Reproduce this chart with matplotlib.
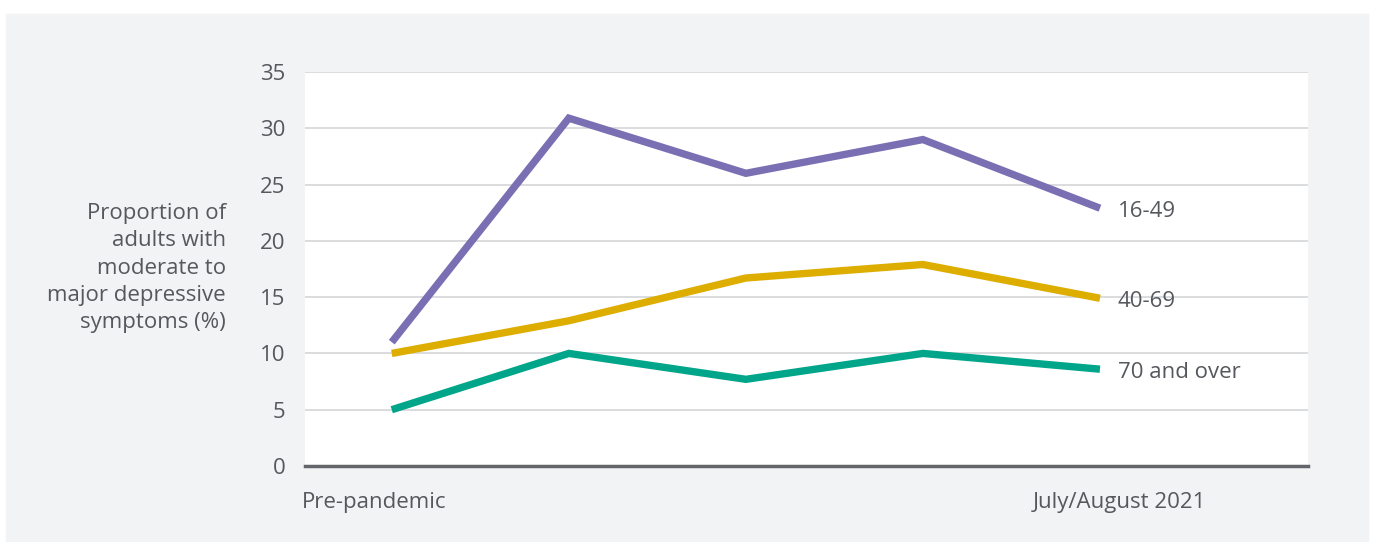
import numpy as np
import matplotlib.pyplot as plt

# survey waves, pre-pandemic to July/August 2021
waves = [0, 1, 2, 3, 4]
age_16_49 = [11.0, 30.9, 26.0, 29.0, 22.9]
age_40_69 = [10.0, 12.9, 16.7, 17.9, 14.9]
age_70_over = [5.0, 10.0, 7.7, 10.0, 8.6]
series_names = ['16-49', '40-69', '70 and over']
first_label = 'Pre-pandemic'
last_label = 'July/August 2021'
yticks = [0, 5, 10, 15, 20, 25, 30, 35]

colors = ['#7a6fb3', '#ddad00', '#00a58a']
txt = '#55585c'
plt.rcParams['font.family'] = ['Open Sans', 'DejaVu Sans']
fs = 16

fig = plt.figure(figsize=(13.75, 5.42), dpi=100)
fig.patch.set_facecolor('white')
# grey panel behind the chart
fig.add_artist(plt.Rectangle((6/1375, 0), (1368-6)/1375, (542-14)/542,
                             transform=fig.transFigure, color='#f2f3f5', zorder=-10))

ax = fig.add_axes([305/1375, (542-466)/542, (1308-305)/1375, (466-72)/542])
ax.set_facecolor('white')

for vals, c in zip([age_16_49, age_40_69, age_70_over], colors):
    ax.plot(waves, vals, color=c, lw=5.3, solid_capstyle='butt', solid_joinstyle='miter', zorder=3)

for vals, name in zip([age_16_49, age_40_69, age_70_over], series_names):
    ax.text(waves[-1] + 0.1, vals[-1] - 0.3, name, color=txt, fontsize=fs, va='center', ha='left')

ax.set_xlim(-0.49, 5.175)
ax.set_ylim(0, 35)
ax.set_yticks(yticks)
ax.set_yticklabels([str(t) for t in yticks], fontsize=fs, color=txt)
ax.tick_params(axis='y', length=0, pad=14)
ax.set_xticks([])
ax.grid(axis='y', color='#d3d5d8', lw=1.2)
ax.set_axisbelow(True)
for s in ['top', 'right', 'left']:
    ax.spines[s].set_visible(False)
ax.spines['bottom'].set_color('#626569')
ax.spines['bottom'].set_linewidth(2.5)

ax.text(-0.505, -3.2, first_label, color=txt, fontsize=fs, ha='left', va='center')
ax.text(4.6, -3.2, last_label, color=txt, fontsize=fs, ha='right', va='center')

fig.text(226/1375, 1 - 268/542,
         'Proportion of\nadults with\nmoderate to\nmajor depressive\nsymptoms (%)',
         color=txt, fontsize=fs, ha='right', va='center', linespacing=1.38)

fig.savefig('out.png', dpi=100)
